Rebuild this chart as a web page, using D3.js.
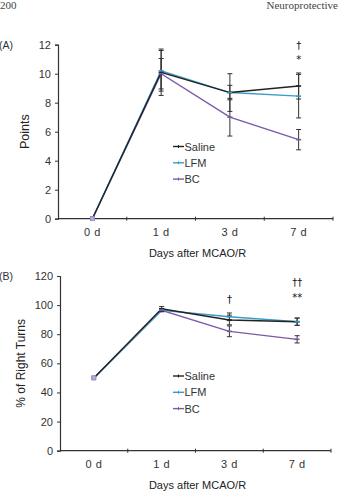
<!DOCTYPE html>
<html>
<head>
<meta charset="utf-8">
<script src="https://cdn.jsdelivr.net/npm/d3@7"></script>
<style>
  body { margin: 0; background: #fff; }
  svg { display: block; }
  text { font-family: "Liberation Sans", Arial, sans-serif; fill: #333; }
</style>
</head>
<body>
<svg id="chart" width="339" height="491"></svg>
<script>
// categories shared by both panels
const days = ["0 d", "1 d", "3 d", "7 d"];
const seriesNames = ["Saline", "LFM", "BC"];
const seriesColors = ["#222222", "#3a9cc8", "#7a5aa8"];

// panel A: neurological score (points)
const pointsSaline = [0, 10.1, 8.7, 9.15];
const pointsLFM = [0, 10.2, 8.7, 8.45];
const pointsBC = [0, 10.0, 7.0, 5.45];
const pointsSalineErr = [0, 1.6, 1.3, 0.9];
const pointsLFMErr = [0, 1.4, 0.5, 1.5];
const pointsBCErr = [0, 1.05, 1.3, 0.7];
const pointsTicks = [0, 2, 4, 6, 8, 10, 12];

// panel B: % of right turns
const turnsSaline = [50, 97.5, 89.8, 88.6];
const turnsLFM = [50, 96.5, 92, 88.6];
const turnsBC = [50, 96.5, 82, 76.5];
const turnsSalineErr = [0, 1.5, 3.3, 2.5];
const turnsLFMErr = [0, 1, 2.6, 2.5];
const turnsBCErr = [0, 1, 3.7, 2.5];
const turnsTicks = [0, 20, 40, 60, 80, 100, 120];

const svg = d3.select('#chart');

// running header (cropped page header)
svg.append('text').attr('x', 0).attr('y', 9)
    .style('font-family', '"Liberation Serif", serif').style('font-size', '11px').style('fill', '#444')
    .text('200');
svg.append('text').attr('x', 338).attr('y', 9).attr('text-anchor', 'end')
    .style('font-family', '"Liberation Serif", serif').style('font-size', '11px').style('fill', '#444')
    .text('Neuroprotective');

function drawPanel(opts) {
    const x = d3.scaleBand().domain(days).range([opts.left, opts.right]);
    const y = d3.scaleLinear().domain([0, opts.max]).range([opts.bottom, opts.top]);
    const g = svg.append('g');

    // panel letter
    g.append('text').attr('x', -1).attr('y', opts.top + 4).style('font-size', '10.5px').text(opts.letter);

    // y axis
    const yAxis = g.append('g').attr('transform', `translate(${opts.left},0)`)
        .call(d3.axisLeft(y).tickValues(opts.ticks).tickSize(3).tickPadding(4));
    yAxis.select('.domain').attr('stroke', '#333').attr('stroke-width', 1.2);
    yAxis.selectAll('.tick line').attr('stroke', '#333');
    yAxis.selectAll('.tick text').style('font-size', '11px').style('fill', '#333')
        .style('font-family', '"Liberation Sans", Arial, sans-serif');

    // x axis with ticks at category boundaries
    const xg = g.append('g').attr('transform', `translate(0,${opts.bottom})`);
    xg.append('line').attr('x1', opts.left).attr('x2', opts.right).attr('stroke', '#333').attr('stroke-width', 1.2);
    xg.selectAll('line.tk').data(days.slice(1).map(d => x(d)).concat([opts.right]))
        .enter().append('line').attr('class', 'tk')
        .attr('x1', d => d).attr('x2', d => d).attr('y1', -2).attr('y2', 2).attr('stroke', '#333');
    xg.selectAll('text').data(days).enter().append('text')
        .attr('x', d => x(d) + x.bandwidth() / 2).attr('y', 17).attr('text-anchor', 'middle')
        .style('font-size', '11px').style('letter-spacing', '0.5px').text(d => d);

    // axis titles
    g.append('text').attr('x', (opts.left + opts.right) / 2 + 2).attr('y', opts.bottom + 38)
        .attr('text-anchor', 'middle').style('font-size', '11px').style('fill', '#222')
        .text('Days after MCAO/R');
    g.append('text')
        .attr('transform', `translate(${opts.yLabelX},${(opts.top + opts.bottom) / 2}) rotate(-90)`)
        .attr('text-anchor', 'middle').style('font-size', opts.yLabelSize).style('fill', '#222')
        .text(opts.yLabel);

    const cx = d => x(d) + x.bandwidth() / 2;
    const line = d3.line().x((d, i) => cx(days[i])).y(d => y(d));

    // series lines (drawn BC first so saline sits on top)
    [2, 1, 0].forEach(s => {
        g.append('path').datum(opts.values[s]).attr('d', line)
            .attr('fill', 'none').attr('stroke', seriesColors[s]).attr('stroke-width', 1.4);
    });

    // error bars
    opts.values.forEach((vals, s) => {
        vals.forEach((v, i) => {
            const e = opts.errors[s][i];
            if (!e) return;
            const px = cx(days[i]);
            g.append('line').attr('x1', px).attr('x2', px).attr('y1', y(v - e)).attr('y2', y(v + e))
                .attr('stroke', '#333').attr('stroke-width', 1);
            [v - e, v + e].forEach(t => {
                g.append('line').attr('x1', px - 2.5).attr('x2', px + 2.5).attr('y1', y(t)).attr('y2', y(t))
                    .attr('stroke', '#333').attr('stroke-width', 1);
            });
        });
    });

    // small dash markers
    opts.values.forEach((vals, s) => {
        vals.forEach((v, i) => {
            const px = cx(days[i]);
            if (i === 0) {
                g.append('rect').attr('x', px - 2).attr('y', y(v) - 2).attr('width', 4).attr('height', 4)
                    .attr('fill', '#b9a9d6').attr('stroke', '#8a78b8').attr('stroke-width', 0.5);
            } else {
                g.append('line').attr('x1', px - 2.5).attr('x2', px + 2.5).attr('y1', y(v)).attr('y2', y(v))
                    .attr('stroke', seriesColors[s]).attr('stroke-width', 1.6);
            }
        });
    });

    // legend
    seriesNames.forEach((name, s) => {
        const ly = opts.legendY + s * 16.3;
        g.append('line').attr('x1', 173).attr('x2', 184).attr('y1', ly).attr('y2', ly)
            .attr('stroke', seriesColors[s]).attr('stroke-width', 1.4);
        g.append('line').attr('x1', 178.5).attr('x2', 178.5).attr('y1', ly - 1.5).attr('y2', ly + 1.5)
            .attr('stroke', seriesColors[s]).attr('stroke-width', 1);
        g.append('text').attr('x', 184.5).attr('y', ly + 4).style('font-size', '11px').style('fill', '#333')
            .text(name);
    });

    // significance marks
    opts.marks.forEach(m => {
        g.append('text').attr('x', cx(m.day)).attr('y', m.y).attr('text-anchor', 'middle')
            .style('font-family', '"DejaVu Sans", sans-serif')
            .style('font-size', '10px').style('fill', '#111').text(m.text);
    });
}

drawPanel({
    letter: '(A)', top: 44.7, bottom: 218.7, left: 58, right: 333, max: 12,
    ticks: pointsTicks, yLabel: 'Points', yLabelX: 29, yLabelSize: '12.5px',
    values: [pointsSaline, pointsLFM, pointsBC],
    errors: [pointsSalineErr, pointsLFMErr, pointsBCErr],
    legendY: 146.5,
    marks: [{ day: '7 d', y: 49, text: '†' }, { day: '7 d', y: 63, text: '*' }]
});

drawPanel({
    letter: '(B)', top: 276, bottom: 450.7, left: 60, right: 331, max: 120,
    ticks: turnsTicks, yLabel: '% of Right Turns', yLabelX: 25, yLabelSize: '12px',
    values: [turnsSaline, turnsLFM, turnsBC],
    errors: [turnsSalineErr, turnsLFMErr, turnsBCErr],
    legendY: 376,
    marks: [{ day: '3 d', y: 303, text: '†' }, { day: '7 d', y: 286, text: '††' }, { day: '7 d', y: 301, text: '**' }]
});
</script>
</body>
</html>
